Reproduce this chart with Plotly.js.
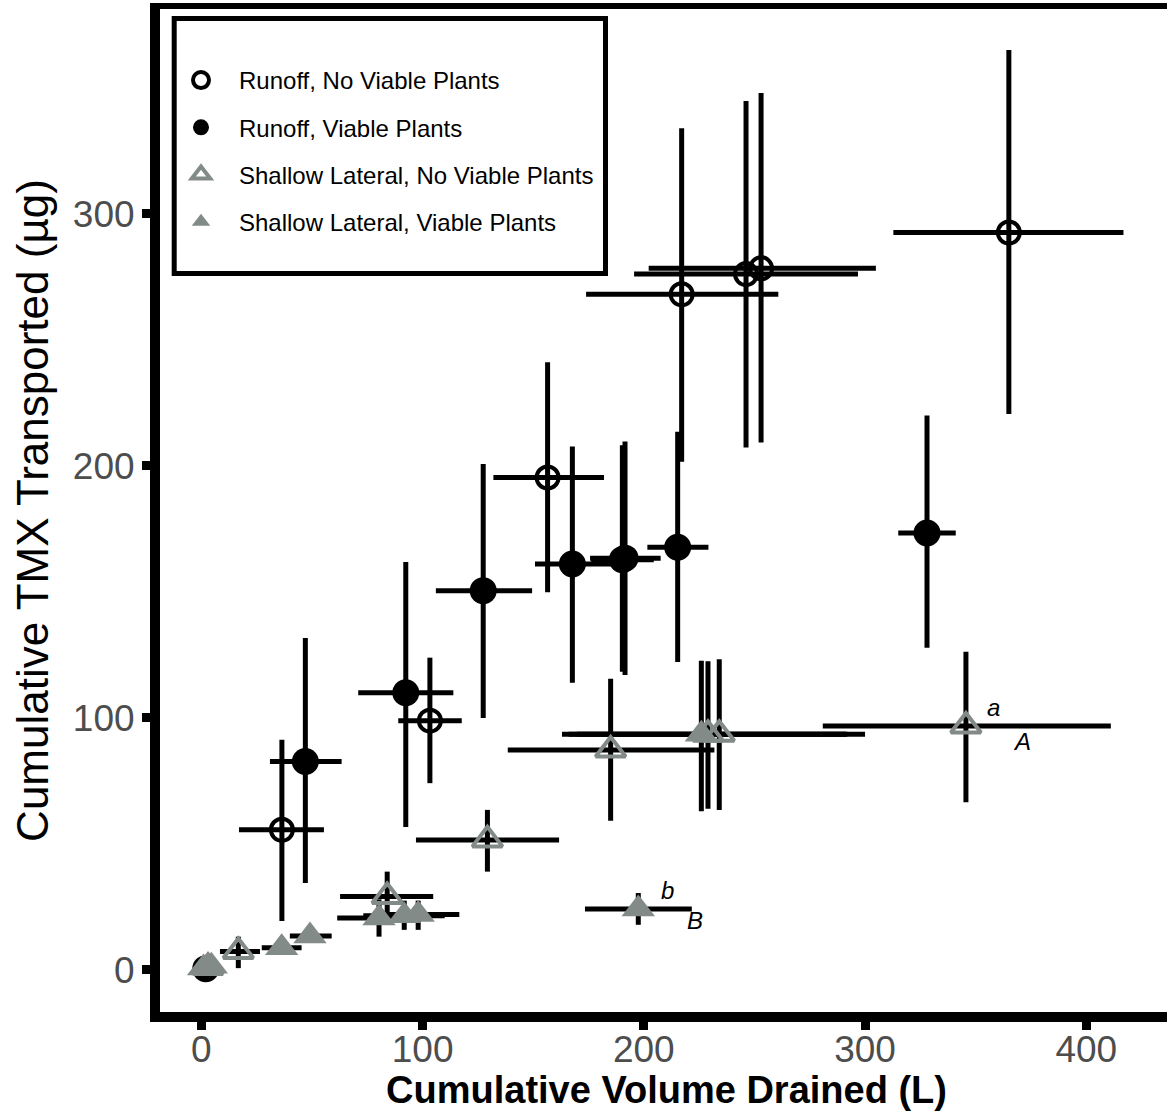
<!DOCTYPE html>
<html><head><meta charset="utf-8">
<script src="https://cdn.plot.ly/plotly-3.0.1.min.js"></script>
<style>html,body{margin:0;padding:0;overflow:hidden;background:#fff}#chart{width:1173px;height:1111px}</style>
</head><body><div id="chart"></div>
<script>
// ---- Data ----
// Runoff, No Viable Plants
const runNoVP_x   = [36.4, 103.3, 156.5, 217.1, 246.2, 253.0, 365.0];
const runNoVP_y   = [55.6, 98.9, 195.4, 268.1, 276.1, 278.4, 292.6];
const runNoVP_xlo = [17.0, 89.0, 132.0, 173.9, 195.6, 202.2, 312.8];
const runNoVP_xhi = [55.4, 117.7, 182.0, 260.8, 296.8, 304.9, 416.8];
const runNoVP_ylo = [19.4, 74.1, 149.9, 201.6, 207.3, 209.3, 220.6];
const runNoVP_yhi = [91.3, 123.9, 241.1, 334.0, 344.8, 348.0, 365.0];

// Runoff, Viable Plants
const runVP_x   = [2.0, 47.0, 92.4, 127.4, 167.7, 191.5, 190.3, 215.3, 328.0];
const runVP_y   = [0.5, 82.7, 110.0, 150.5, 161.1, 163.4, 162.8, 167.7, 173.4];
const runVP_xlo = [0.8, 31.0, 70.9, 106.0, 150.8, 175.7, 176.2, 201.6, 315.0];
const runVP_xhi = [3.2, 63.4, 113.9, 149.5, 185.6, 207.6, 204.5, 229.2, 341.0];
const runVP_ylo = [-0.5, 34.5, 56.7, 100.0, 113.9, 117.0, 118.3, 122.2, 127.8];
const runVP_yhi = [1.5, 131.7, 161.9, 200.8, 207.7, 209.7, 208.2, 213.5, 220.0];

// Shallow Lateral, No Viable Plants
const latNoVP_x   = [3.0, 16.7, 84.0, 129.3, 185.0, 229.0, 234.1, 345.6];
const latNoVP_y   = [1.0, 7.3, 29.1, 51.6, 87.3, 93.5, 93.5, 96.8];
const latNoVP_xlo = [1.5, 8.4, 62.7, 97.0, 138.5, 166.0, 169.8, 280.9];
const latNoVP_xhi = [4.5, 26.5, 104.8, 161.7, 231.9, 292.0, 300.0, 411.1];
const latNoVP_ylo = [0.2, 0.7, 22.6, 39.0, 59.2, 64.0, 63.5, 66.5];
const latNoVP_yhi = [2.0, 13.2, 39.0, 63.5, 115.5, 122.5, 123.3, 126.3];

// Shallow Lateral, Viable Plants
const latVP_x   = [1.0, 4.5, 36.3, 49.1, 80.3, 91.7, 98.0, 197.5, 226.0];
const latVP_y   = [0.8, 1.5, 8.8, 13.5, 20.6, 21.5, 22.0, 24.2, 93.5];
const latVP_xlo = [0.2, 2.5, 27.3, 40.0, 61.4, 73.2, 80.0, 173.4, 163.0];
const latVP_xhi = [1.8, 6.5, 45.3, 58.9, 99.2, 110.0, 116.6, 221.7, 291.4];
const latVP_ylo = [0.2, 0.5, 7.0, 11.0, 13.2, 15.9, 15.9, 17.9, 63.0];
const latVP_yhi = [1.4, 2.5, 11.0, 16.0, 28.0, 27.5, 27.5, 30.5, 122.7];

const seriesNames = ['Runoff, No Viable Plants', 'Runoff, Viable Plants',
  'Shallow Lateral, No Viable Plants', 'Shallow Lateral, Viable Plants'];
const xTicks = [0, 100, 200, 300, 400];
const yTicks = [0, 100, 200, 300];

// ---- Build traces ----
const FONT = 'Liberation Sans, Arial, Helvetica, sans-serif';
const GREY = '#838b88';
const series = [
  {x: runNoVP_x, y: runNoVP_y, xlo: runNoVP_xlo, xhi: runNoVP_xhi, ylo: runNoVP_ylo, yhi: runNoVP_yhi,
   marker: {symbol: 'circle-open', size: 22, color: '#000', line: {width: 4, color: '#000'}}},
  {x: runVP_x, y: runVP_y, xlo: runVP_xlo, xhi: runVP_xhi, ylo: runVP_ylo, yhi: runVP_yhi,
   marker: {symbol: 'circle', size: 27, color: '#000', line: {width: 0}}},
  {x: latNoVP_x, y: latNoVP_y, xlo: latNoVP_xlo, xhi: latNoVP_xhi, ylo: latNoVP_ylo, yhi: latNoVP_yhi,
   marker: {symbol: 'triangle-up-open', size: 26, color: GREY, line: {width: 4, color: GREY}}},
  {x: latVP_x, y: latVP_y, xlo: latVP_xlo, xhi: latVP_xhi, ylo: latVP_ylo, yhi: latVP_yhi,
   marker: {symbol: 'triangle-up', size: 29, color: GREY, line: {width: 0}}}
];

const errTraces = series.map(s => ({
  type: 'scatter', mode: 'markers', x: s.x, y: s.y, showlegend: false, hoverinfo: 'skip',
  marker: {size: 1, opacity: 0},
  error_x: {type: 'data', symmetric: false,
    array: s.xhi.map((v, i) => v - s.x[i]), arrayminus: s.xlo.map((v, i) => s.x[i] - v),
    color: '#000', thickness: 5, width: 0},
  error_y: {type: 'data', symmetric: false,
    array: s.yhi.map((v, i) => v - s.y[i]), arrayminus: s.ylo.map((v, i) => s.y[i] - v),
    color: '#000', thickness: 5, width: 0}
}));
const markTraces = series.map((s, i) => ({
  type: 'scatter', mode: 'markers', x: s.x, y: s.y, name: seriesNames[i],
  legendgroup: 'g' + i, marker: s.marker
}));

// ---- Layout ----
const W = 1173, H = 1111, ML = 160, MT = 9, MB = 99;
const PW = W - ML, PH = H - MT - MB;
const px2paperX = p => (p - ML) / PW;
const px2paperY = p => 1 - (p - MT) / PH;

const layout = {
  width: W, height: H,
  margin: {l: ML, r: 0, t: MT, b: MB, pad: 0},
  paper_bgcolor: '#fff', plot_bgcolor: '#fff',
  font: {family: FONT, color: '#000'},
  showlegend: true,
  legend: {
    x: px2paperX(163), y: px2paperY(58), xanchor: 'left', yanchor: 'top',
    bgcolor: 'rgba(0,0,0,0)', borderwidth: 0,
    font: {family: FONT, size: 24, color: '#000'},
    itemwidth: 66, traceorder: 'grouped', tracegroupgap: 13
  },
  xaxis: {
    range: [-18.7, 439.2], showgrid: false, zeroline: false,
    showline: true, linewidth: 10, linecolor: '#000',
    ticks: 'outside', ticklen: 8, tickwidth: 9, tickcolor: '#000',
    tickmode: 'array', tickvals: xTicks, ticktext: xTicks.map(String),
    ticklabelstandoff: -12,
    tickfont: {family: FONT, size: 37, color: '#4d4d4d'},
    title: {text: '<b>Cumulative Volume Drained (L)</b>', font: {family: FONT, size: 38, color: '#000'}, standoff: 14}
  },
  yaxis: {
    range: [-16.7, 381.3], showgrid: false, zeroline: false,
    showline: true, linewidth: 10, linecolor: '#000',
    ticks: 'outside', ticklen: 8, tickwidth: 9, tickcolor: '#000',
    tickmode: 'array', tickvals: yTicks, ticktext: yTicks.map(String),
    tickfont: {family: FONT, size: 37, color: '#4d4d4d'},
    title: {text: 'Cumulative TMX Transported (µg)', font: {family: FONT, size: 44, color: '#000'}, standoff: 14}
  },
  shapes: [
    // top panel border
    {type: 'line', xref: 'paper', yref: 'paper', x0: px2paperX(150), x1: 1.01,
     y0: px2paperY(6), y1: px2paperY(6), line: {color: '#000', width: 6}, layer: 'above'},
    // legend box
    {type: 'rect', xref: 'paper', yref: 'paper', x0: px2paperX(174.2), x1: px2paperX(605.5),
     y0: px2paperY(273.5), y1: px2paperY(18.5), line: {color: '#000', width: 5}, fillcolor: '#fff', layer: 'above'}
  ],
  annotations: [
    {x: 357.9, y: 104.0, xref: 'x', yref: 'y', text: '<i>a</i>', showarrow: false, font: {family: FONT, size: 24, color: '#000'}},
    {x: 371.0, y: 90.5, xref: 'x', yref: 'y', text: '<i>A</i>', showarrow: false, font: {family: FONT, size: 24, color: '#000'}},
    {x: 210.5, y: 31.7, xref: 'x', yref: 'y', text: '<i>b</i>', showarrow: false, font: {family: FONT, size: 24, color: '#000'}},
    {x: 223.1, y: 19.8, xref: 'x', yref: 'y', text: '<i>B</i>', showarrow: false, font: {family: FONT, size: 24, color: '#000'}}
  ]
};

Plotly.newPlot('chart', errTraces.concat(markTraces), layout, {displayModeBar: false, staticPlot: true});
</script>
</body></html>
